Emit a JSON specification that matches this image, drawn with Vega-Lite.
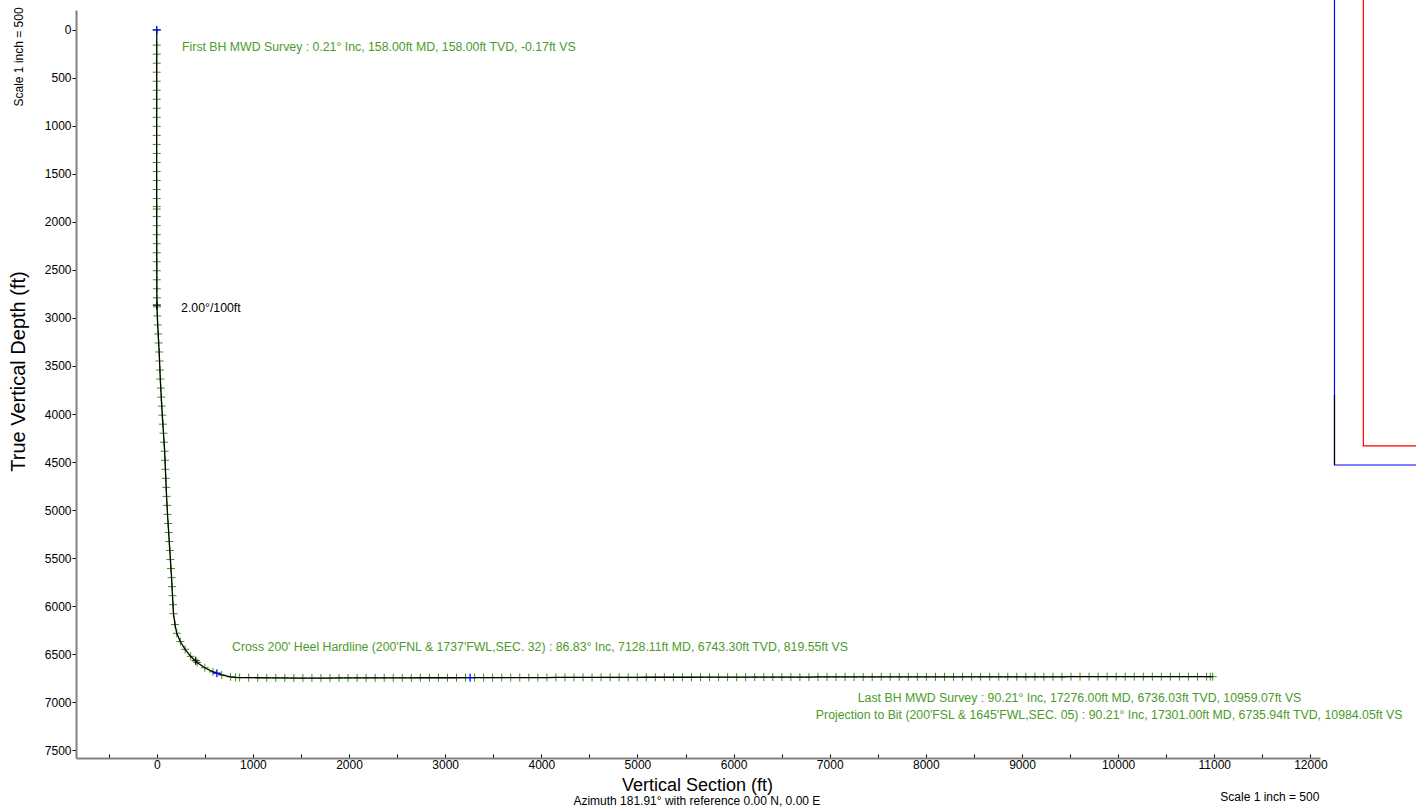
{
  "$schema": "https://vega.github.io/schema/vega-lite/v6.json",
  "autosize": {"type": "none"},
  "width": 1340,
  "height": 748,
  "padding": {"left": 76, "top": 10, "right": 0, "bottom": 51},
  "config": {"font": "Liberation Sans", "view": {"stroke": null}},
  "datasets": {
    "survey": [
      {"vs": 0, "tvd": 0}, {"vs": -0.17, "tvd": 158}, {"vs": -0.3, "tvd": 252}, {"vs": -0.4, "tvd": 346}, {"vs": -0.5, "tvd": 440},
      {"vs": -0.6, "tvd": 534}, {"vs": -0.6, "tvd": 628}, {"vs": -0.7, "tvd": 722}, {"vs": -0.8, "tvd": 816}, {"vs": -0.8, "tvd": 910},
      {"vs": -0.9, "tvd": 1004}, {"vs": -0.9, "tvd": 1098}, {"vs": -1.0, "tvd": 1192}, {"vs": -1.0, "tvd": 1286}, {"vs": -1.1, "tvd": 1380},
      {"vs": -1.1, "tvd": 1474}, {"vs": -1.0, "tvd": 1568}, {"vs": -1.0, "tvd": 1662}, {"vs": -0.9, "tvd": 1756}, {"vs": -0.8, "tvd": 1840},
      {"vs": -0.8, "tvd": 1865}, {"vs": -0.7, "tvd": 1944}, {"vs": -0.6, "tvd": 2038}, {"vs": -0.4, "tvd": 2132}, {"vs": -0.2, "tvd": 2226},
      {"vs": 0.0, "tvd": 2320}, {"vs": 0.2, "tvd": 2414}, {"vs": 0.4, "tvd": 2508}, {"vs": 0.7, "tvd": 2602}, {"vs": 1.0, "tvd": 2696},
      {"vs": 1.5, "tvd": 2790}, {"vs": 2.5, "tvd": 2884}, {"vs": 6, "tvd": 2978}, {"vs": 10, "tvd": 3072}, {"vs": 15, "tvd": 3166},
      {"vs": 20, "tvd": 3260}, {"vs": 25, "tvd": 3354}, {"vs": 29, "tvd": 3448}, {"vs": 33, "tvd": 3542}, {"vs": 37, "tvd": 3636},
      {"vs": 42, "tvd": 3730}, {"vs": 47, "tvd": 3824}, {"vs": 52, "tvd": 3918}, {"vs": 58, "tvd": 4012}, {"vs": 64, "tvd": 4106},
      {"vs": 70, "tvd": 4200}, {"vs": 76, "tvd": 4294}, {"vs": 82, "tvd": 4388}, {"vs": 86, "tvd": 4482}, {"vs": 90, "tvd": 4576},
      {"vs": 94, "tvd": 4670}, {"vs": 98, "tvd": 4764}, {"vs": 102, "tvd": 4858}, {"vs": 107, "tvd": 4952}, {"vs": 112, "tvd": 5046},
      {"vs": 118, "tvd": 5140}, {"vs": 124, "tvd": 5234}, {"vs": 130, "tvd": 5328}, {"vs": 136, "tvd": 5422}, {"vs": 142, "tvd": 5516},
      {"vs": 148, "tvd": 5610}, {"vs": 154, "tvd": 5704}, {"vs": 159, "tvd": 5798}, {"vs": 164, "tvd": 5892}, {"vs": 169, "tvd": 5986},
      {"vs": 174, "tvd": 6080}, {"vs": 190, "tvd": 6193}, {"vs": 208, "tvd": 6284}, {"vs": 245, "tvd": 6370}, {"vs": 295, "tvd": 6451},
      {"vs": 352, "tvd": 6524}, {"vs": 420, "tvd": 6588}, {"vs": 500, "tvd": 6643}, {"vs": 585, "tvd": 6686}, {"vs": 675, "tvd": 6718},
      {"vs": 768, "tvd": 6738}, {"vs": 819.55, "tvd": 6743.3}, {"vs": 862, "tvd": 6745},
      {"vs": 956, "tvd": 6746}, {"vs": 1050, "tvd": 6747}, {"vs": 1144, "tvd": 6748}, {"vs": 1238, "tvd": 6749}, {"vs": 1332, "tvd": 6749},
      {"vs": 1426, "tvd": 6750}, {"vs": 1520, "tvd": 6750}, {"vs": 1614, "tvd": 6750}, {"vs": 1708, "tvd": 6750}, {"vs": 1802, "tvd": 6750},
      {"vs": 1896, "tvd": 6749}, {"vs": 1990, "tvd": 6749}, {"vs": 2084, "tvd": 6749}, {"vs": 2178, "tvd": 6749}, {"vs": 2272, "tvd": 6748},
      {"vs": 2366, "tvd": 6748}, {"vs": 2460, "tvd": 6748}, {"vs": 2554, "tvd": 6748}, {"vs": 2648, "tvd": 6748}, {"vs": 2742, "tvd": 6747},
      {"vs": 2836, "tvd": 6747}, {"vs": 2930, "tvd": 6747}, {"vs": 3024, "tvd": 6747}, {"vs": 3118, "tvd": 6747}, {"vs": 3212, "tvd": 6746},
      {"vs": 3306, "tvd": 6746}, {"vs": 3400, "tvd": 6746}, {"vs": 3494, "tvd": 6746}, {"vs": 3588, "tvd": 6746}, {"vs": 3682, "tvd": 6745},
      {"vs": 3776, "tvd": 6745}, {"vs": 3870, "tvd": 6745}, {"vs": 3964, "tvd": 6745}, {"vs": 4058, "tvd": 6745}, {"vs": 4152, "tvd": 6744},
      {"vs": 4246, "tvd": 6744}, {"vs": 4340, "tvd": 6744}, {"vs": 4434, "tvd": 6744}, {"vs": 4528, "tvd": 6744}, {"vs": 4622, "tvd": 6743},
      {"vs": 4716, "tvd": 6743}, {"vs": 4810, "tvd": 6743}, {"vs": 4904, "tvd": 6743}, {"vs": 4998, "tvd": 6743}, {"vs": 5092, "tvd": 6742},
      {"vs": 5186, "tvd": 6742}, {"vs": 5280, "tvd": 6742}, {"vs": 5374, "tvd": 6742}, {"vs": 5468, "tvd": 6742}, {"vs": 5562, "tvd": 6742},
      {"vs": 5656, "tvd": 6741}, {"vs": 5750, "tvd": 6741}, {"vs": 5844, "tvd": 6741}, {"vs": 5938, "tvd": 6741}, {"vs": 6032, "tvd": 6741},
      {"vs": 6126, "tvd": 6741}, {"vs": 6220, "tvd": 6740}, {"vs": 6314, "tvd": 6740}, {"vs": 6408, "tvd": 6740}, {"vs": 6502, "tvd": 6740},
      {"vs": 6596, "tvd": 6740}, {"vs": 6690, "tvd": 6740}, {"vs": 6784, "tvd": 6740}, {"vs": 6878, "tvd": 6739}, {"vs": 6972, "tvd": 6739},
      {"vs": 7066, "tvd": 6739}, {"vs": 7160, "tvd": 6739}, {"vs": 7254, "tvd": 6739}, {"vs": 7348, "tvd": 6739}, {"vs": 7442, "tvd": 6739},
      {"vs": 7536, "tvd": 6738}, {"vs": 7630, "tvd": 6738}, {"vs": 7724, "tvd": 6738}, {"vs": 7818, "tvd": 6738}, {"vs": 7912, "tvd": 6738},
      {"vs": 8006, "tvd": 6738}, {"vs": 8100, "tvd": 6738}, {"vs": 8194, "tvd": 6738}, {"vs": 8288, "tvd": 6738}, {"vs": 8382, "tvd": 6737},
      {"vs": 8476, "tvd": 6737}, {"vs": 8570, "tvd": 6737}, {"vs": 8664, "tvd": 6737}, {"vs": 8758, "tvd": 6737}, {"vs": 8852, "tvd": 6737},
      {"vs": 8946, "tvd": 6737}, {"vs": 9040, "tvd": 6737}, {"vs": 9134, "tvd": 6737}, {"vs": 9228, "tvd": 6737}, {"vs": 9322, "tvd": 6737},
      {"vs": 9416, "tvd": 6737}, {"vs": 9510, "tvd": 6736}, {"vs": 9604, "tvd": 6736}, {"vs": 9698, "tvd": 6736}, {"vs": 9792, "tvd": 6736},
      {"vs": 9886, "tvd": 6736}, {"vs": 9980, "tvd": 6736}, {"vs": 10074, "tvd": 6736}, {"vs": 10168, "tvd": 6736}, {"vs": 10262, "tvd": 6736},
      {"vs": 10356, "tvd": 6736}, {"vs": 10450, "tvd": 6736}, {"vs": 10544, "tvd": 6736}, {"vs": 10638, "tvd": 6736}, {"vs": 10732, "tvd": 6736},
      {"vs": 10826, "tvd": 6736}, {"vs": 10920, "tvd": 6736}, {"vs": 10959.07, "tvd": 6736.03}, {"vs": 10984.05, "tvd": 6735.94}
    ],
    "events": [
      {"vs": 0, "tvd": 0, "kind": "tie-in"},
      {"vs": 0.5, "tvd": 2865, "kind": "build"},
      {"vs": 405, "tvd": 6570, "kind": "build"},
      {"vs": 625, "tvd": 6700, "kind": "tie-in"},
      {"vs": 3259, "tvd": 6746, "kind": "tie-in"}
    ],
    "notes": [
      {"vs": 263, "tvd": 177, "kind": "survey", "text": "First BH MWD Survey  : 0.21° Inc, 158.00ft MD, 158.00ft TVD, -0.17ft VS"},
      {"vs": 783, "tvd": 6427, "kind": "survey", "text": "Cross 200' Heel Hardline (200'FNL & 1737'FWL,SEC. 32) : 86.83° Inc, 7128.11ft MD, 6743.30ft TVD, 819.55ft VS"},
      {"vs": 7292, "tvd": 6958, "kind": "survey", "text": "Last BH MWD Survey  : 90.21° Inc, 17276.00ft MD, 6736.03ft TVD, 10959.07ft VS"},
      {"vs": 6856, "tvd": 7135, "kind": "survey", "text": "Projection to Bit (200'FSL & 1645'FWL,SEC. 05) : 90.21° Inc, 17301.00ft MD, 6735.94ft TVD, 10984.05ft VS"},
      {"vs": 253, "tvd": 2896, "kind": "dls", "text": "2.00°/100ft"},
      {"vs": 5618, "tvd": 8031, "kind": "caption", "text": "Azimuth 181.91° with reference 0.00 N, 0.00 E"},
      {"vs": 11578, "tvd": 7990, "kind": "caption", "text": "Scale 1 inch = 500"},
      {"vs": -1432, "tvd": 281, "kind": "side", "text": "Scale 1 inch = 500"}
    ],
    "plan": [
      {"e": 5, "s": 0, "line": "Section line", "k": 1},
      {"e": 5, "s": 4834, "line": "Section line", "k": 2},
      {"e": 900, "s": 4834, "line": "Section line", "k": 3},
      {"e": 305, "s": 0, "line": "Hardline", "k": 1},
      {"e": 305, "s": 4636, "line": "Hardline", "k": 2},
      {"e": 900, "s": 4636, "line": "Hardline", "k": 3},
      {"e": 5, "s": 4106, "line": "Wellpath", "k": 1},
      {"e": 5, "s": 4834, "line": "Wellpath", "k": 2}
    ]
  },
  "layer": [
    {
      "encoding": {
        "x": {
          "field": "vs", "type": "quantitative",
          "scale": {"domain": [-840, 12100], "range": [0, 1244], "nice": false, "zero": false},
          "axis": {
            "title": "Vertical Section (ft)",
            "values": [-500, 0, 500, 1000, 1500, 2000, 2500, 3000, 3500, 4000, 4500, 5000, 5500, 6000, 6500, 7000, 7500, 8000, 8500, 9000, 9500, 10000, 10500, 11000, 11500, 12000],
            "format": "d",
            "labelExpr": "datum.value % 1000 == 0 ? datum.label : ''",
            "grid": false,
            "domainColor": "#808080", "domainWidth": 2,
            "tickColor": "#000000", "tickSize": -4, "tickWidth": 1,
            "labelPadding": 5, "labelFontSize": 12, "labelColor": "#000000",
            "labelFlush": false, "labelOverlap": false,
            "titleFontSize": 18, "titleFontWeight": "normal", "titleColor": "#000000",
            "titleX": 621, "titleY": 27, "titleBaseline": "middle", "titleAlign": "center"
          }
        },
        "y": {
          "field": "tvd", "type": "quantitative",
          "scale": {"domain": [-208, 7583], "reverse": true, "nice": false, "zero": false},
          "axis": {
            "title": "True Vertical Depth (ft)",
            "values": [0, 500, 1000, 1500, 2000, 2500, 3000, 3500, 4000, 4500, 5000, 5500, 6000, 6500, 7000, 7500],
            "format": "d",
            "grid": false,
            "domainColor": "#808080", "domainWidth": 2,
            "tickColor": "#000000", "tickSize": 4, "tickWidth": 1,
            "labelPadding": 1, "labelFontSize": 12, "labelColor": "#000000",
            "labelFlush": false, "labelOverlap": false,
            "titleFontSize": 20, "titleFontWeight": "normal", "titleColor": "#000000",
            "titleX": -58, "titleY": 361, "titleAngle": -90, "titleAlign": "center", "titleBaseline": "middle"
          }
        }
      },
      "layer": [
        {
          "data": {"name": "survey"},
          "mark": {"type": "point", "shape": "M-1,0H1M0,-1V1", "size": 64, "filled": false, "stroke": "#3f8f1f", "strokeWidth": 1, "opacity": 1}
        },
        {
          "data": {"name": "survey"},
          "mark": {"type": "line", "color": "#000000", "strokeWidth": 1.3},
          "encoding": {"order": {"value": null}}
        },
        {
          "data": {"name": "events"},
          "mark": {"type": "point", "shape": "M-1,0H1M0,-1V1", "size": 64, "filled": false, "strokeWidth": 1.2, "opacity": 1},
          "encoding": {
            "stroke": {"field": "kind", "type": "nominal", "scale": {"domain": ["tie-in", "build"], "range": ["#0000ff", "#000000"]}, "legend": null}
          }
        },
        {
          "data": {"name": "notes"},
          "transform": [{"filter": "datum.kind == 'survey'"}],
          "mark": {"type": "text", "align": "left", "baseline": "middle", "fontSize": 12.3, "color": "#4c9a2a"},
          "encoding": {"text": {"field": "text"}}
        },
        {
          "data": {"name": "notes"},
          "transform": [{"filter": "datum.kind == 'dls'"}],
          "mark": {"type": "text", "align": "left", "baseline": "middle", "fontSize": 12.3, "color": "#000000"},
          "encoding": {"text": {"field": "text"}}
        },
        {
          "data": {"name": "notes"},
          "transform": [{"filter": "datum.kind == 'caption'"}],
          "mark": {"type": "text", "align": "center", "baseline": "middle", "fontSize": 12, "color": "#000000"},
          "encoding": {"text": {"field": "text"}}
        },
        {
          "data": {"name": "notes"},
          "transform": [{"filter": "datum.kind == 'side'"}],
          "mark": {"type": "text", "align": "center", "baseline": "middle", "fontSize": 12, "angle": 270, "color": "#000000"},
          "encoding": {"text": {"field": "text"}}
        }
      ]
    },
    {
      "data": {"name": "plan"},
      "mark": {"type": "line", "strokeWidth": 1.2},
      "encoding": {
        "x": {"field": "e", "type": "quantitative", "scale": {"domain": [0, 852], "range": [1258, 1340], "nice": false, "zero": false}, "axis": null},
        "y": {"field": "s", "type": "quantitative", "scale": {"domain": [0, 4834], "range": [-10, 455], "nice": false, "zero": false}, "axis": null},
        "color": {"field": "line", "type": "nominal", "scale": {"domain": ["Section line", "Hardline", "Wellpath"], "range": ["#0000ff", "#ff0000", "#000000"]}, "legend": null},
        "order": {"field": "k", "type": "quantitative"}
      }
    }
  ],
  "resolve": {"scale": {"x": "independent", "y": "independent", "color": "independent"}}
}
